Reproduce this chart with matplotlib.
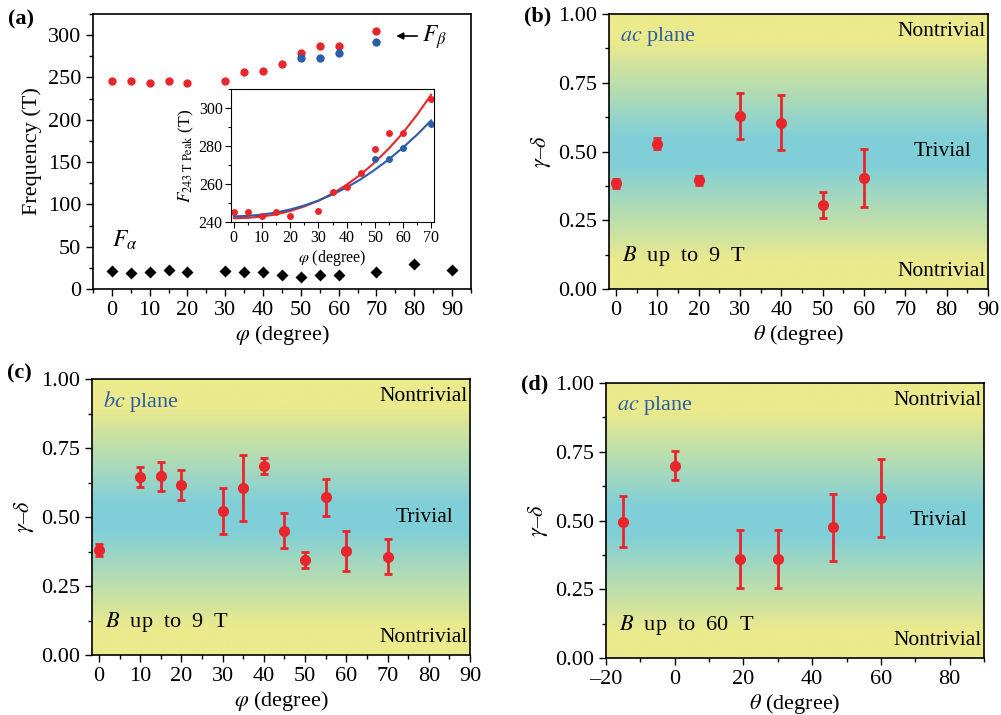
import numpy as np
import matplotlib
matplotlib.use("Agg")
import matplotlib.pyplot as plt
from matplotlib.colors import LinearSegmentedColormap
from matplotlib.ticker import MultipleLocator

plt.rcParams['font.family'] = ['Liberation Serif', 'DejaVu Serif']
plt.rcParams['mathtext.fontset'] = 'stix'
plt.rcParams['xtick.direction'] = 'out'
plt.rcParams['ytick.direction'] = 'out'

RED = '#e8262b'
BLUE = '#2a5ea8'
TXTBLUE = '#2b5ca6'

#########  (a) frequencies
phi_red = [0, 5, 10, 15, 20, 30, 35, 40, 45, 50, 55, 60, 70]
F_red = [245.5, 245.3, 243.4, 245.3, 243.0, 245.6, 255.9, 258.2, 265.6, 278.5, 286.7, 286.7, 304.7]
phi_blue = [50, 55, 60, 70]
F_blue = [273.4, 273.4, 278.9, 291.8]
phi_alpha = [0, 5, 10, 15, 20, 30, 35, 40, 45, 50, 55, 60, 70, 80, 90]
F_alpha = [20.9, 19.3, 19.7, 22.0, 20.0, 20.9, 19.7, 19.7, 16.9, 14.6, 16.9, 16.9, 19.7, 29.5, 22.0]

# fitted curves in the inset
phi_fit = [0, 5, 10, 15, 20, 25, 30, 35, 40, 45, 50, 55, 60, 65, 70]
fit_red = [242.0, 242.2, 242.9, 244.0, 245.8, 248.2, 251.2, 255.0, 259.6, 265.0, 271.4, 278.7, 287.0, 296.5, 307.0]
fit_blue = [243.0, 243.2, 243.9, 245.0, 246.6, 248.7, 251.3, 254.5, 258.2, 262.5, 267.5, 273.0, 279.2, 286.0, 293.5]

#########  (b) ac plane, 9 T
theta_b = [0, 10, 20, 30, 40, 50, 60]
gd_b = [0.384, 0.528, 0.395, 0.628, 0.604, 0.306, 0.404]
err_b = [0.015, 0.02, 0.015, 0.083, 0.10, 0.048, 0.104]

#########  (c) bc plane, 9 T
phi_c = [0, 10, 15, 20, 30, 35, 40, 45, 50, 55, 60, 70]
gd_c = [0.380, 0.646, 0.648, 0.615, 0.521, 0.606, 0.684, 0.451, 0.346, 0.572, 0.377, 0.356]
err_c = [0.023, 0.037, 0.053, 0.055, 0.084, 0.12, 0.029, 0.065, 0.029, 0.067, 0.073, 0.063]

#########  (d) ac plane, 60 T
theta_d = [-15, 0, 19, 30, 46, 60]
gd_d = [0.496, 0.699, 0.359, 0.359, 0.475, 0.583]
err_d = [0.093, 0.053, 0.105, 0.105, 0.122, 0.142]


fig = plt.figure(figsize=(10.01, 7.15), dpi=100)

bg = LinearSegmentedColormap.from_list('bg', [(0.0, '#ebea8c'), (0.1, '#ebea8c'),
                                              (0.45, '#80cfd8'), (0.55, '#80cfd8'),
                                              (0.9, '#ebea8c'), (1.0, '#ebea8c')])


def gamma_panel(rect, xs, ys, es, xlim, xmajor, xminor, xlabel, plane, field, label, ly):
    ax = fig.add_axes(rect)
    grad = np.linspace(0, 1, 256).reshape(-1, 1)
    ax.imshow(grad, cmap=bg, origin='lower', aspect='auto',
              extent=[xlim[0], xlim[1], 0, 1], zorder=0)
    ax.errorbar(xs, ys, yerr=es, fmt='o', color=RED, ms=7, elinewidth=2,
                capsize=3, capthick=2, zorder=3)
    ax.set_xlim(*xlim)
    ax.set_ylim(0, 1)
    ax.xaxis.set_major_locator(MultipleLocator(xmajor))
    ax.xaxis.set_minor_locator(MultipleLocator(xminor))
    ax.yaxis.set_major_locator(MultipleLocator(0.25))
    ax.yaxis.set_minor_locator(MultipleLocator(0.125))
    ax.yaxis.set_major_formatter(matplotlib.ticker.FormatStrFormatter('%.2f'))
    ax.tick_params(which='both', top=False, right=False, labelsize=16, width=1)
    ax.tick_params(which='major', length=5)
    ax.tick_params(which='minor', length=3)
    for s in ax.spines.values():
        s.set_linewidth(1.2)
    ax.set_xlabel(xlabel, fontsize=16, labelpad=2)
    ax.set_ylabel(r'$\gamma$–$\delta$', fontsize=16, labelpad=4)
    ax.text(0.03, 0.92, plane, transform=ax.transAxes, fontsize=16,
            color=TXTBLUE, va='center', ha='left')
    ax.text(0.995, 0.935, 'Nontrivial', transform=ax.transAxes, fontsize=15.5,
            ha='right', va='center')
    ax.text(0.995, 0.065, 'Nontrivial', transform=ax.transAxes, fontsize=15.5,
            ha='right', va='center')
    ax.text(0.88, 0.5, 'Trivial', transform=ax.transAxes, fontsize=15.5,
            ha='center', va='center')
    ax.text(0.035, 0.12, field, transform=ax.transAxes, fontsize=16,
            ha='left', va='center')
    fig.text(rect[0] - 0.085, ly, label, fontsize=16,
             fontweight='bold', va='center', ha='left')
    return ax


#########  (a)
ax = fig.add_axes([0.0929, 0.5958, 0.3776, 0.3846])
ax.plot(phi_red, F_red, 'o', color=RED, ms=6, mec='none')
ax.plot(phi_blue, F_blue, 'o', color=BLUE, ms=6, mec='none')
ax.plot(phi_alpha, F_alpha, 'D', color='black', ms=6, mec='none')
ax.set_xlim(-5, 95)
ax.set_ylim(0, 325)
ax.xaxis.set_major_locator(MultipleLocator(10))
ax.xaxis.set_minor_locator(MultipleLocator(5))
ax.yaxis.set_major_locator(MultipleLocator(50))
ax.yaxis.set_minor_locator(MultipleLocator(25))
ax.tick_params(which='both', top=False, right=False, labelsize=16, width=1)
ax.tick_params(which='major', length=5)
ax.tick_params(which='minor', length=3)
for s in ax.spines.values():
    s.set_linewidth(1.2)
ax.set_xlabel(r'$\varphi$ (degree)', fontsize=16, labelpad=2)
ax.set_ylabel('Frequency (T)', fontsize=16, labelpad=4)
ax.text(0, 57, r'$F_\alpha$', fontsize=17, ha='left', va='center')
ax.annotate('', xy=(74.5, 299), xytext=(81.5, 299),
            arrowprops=dict(arrowstyle='-|>', color='black', lw=1.2, mutation_scale=10))
ax.text(82, 298, r'$F_\beta$', fontsize=17, ha='left', va='center')
fig.text(0.008, 0.973, '(a)', fontsize=16, fontweight='bold', va='center', ha='left')

# inset
ins = fig.add_axes([0.2308, 0.6895, 0.2028, 0.186])
ins.plot(phi_fit, fit_red, '-', color=RED, lw=1.5)
ins.plot(phi_fit, fit_blue, '-', color=BLUE, lw=1.5)
ins.plot(phi_red, F_red, 'o', color=RED, ms=5, mec='none')
ins.plot(phi_blue, F_blue, 'o', color=BLUE, ms=5, mec='none')
ins.set_xlim(-1, 71)
ins.set_ylim(240, 310)
ins.xaxis.set_major_locator(MultipleLocator(10))
ins.xaxis.set_minor_locator(MultipleLocator(5))
ins.yaxis.set_major_locator(MultipleLocator(20))
ins.yaxis.set_minor_locator(MultipleLocator(10))
ins.tick_params(which='both', top=False, right=False, labelsize=11.5, width=0.8, pad=2)
ins.tick_params(which='major', length=4)
ins.tick_params(which='minor', length=2.5)
ins.set_xlabel(r'$\varphi$ (degree)', fontsize=11.5, labelpad=1)
ins.set_ylabel(r'$F_{243\ \mathrm{T\ Peak}}$ (T)', fontsize=12.5, labelpad=2)

#########  (b)
gamma_panel([0.6084, 0.5958, 0.3786, 0.3846], theta_b, gd_b, err_b, (-1.7, 90), 10, 5,
            r'$\theta$ (degree)', r'$ac$ plane', r'$B$  up  to  9  T', '(b)', 0.977)

#########  (c)
gamma_panel([0.0919, 0.0839, 0.3776, 0.386], phi_c, gd_c, err_c, (-1.7, 90), 10, 5,
            r'$\varphi$ (degree)', r'$bc$ plane', r'$B$  up  to  9  T', '(c)', 0.478)

#########  (d)
axd = gamma_panel([0.6054, 0.0797, 0.3776, 0.3846], theta_d, gd_d, err_d, (-20, 90), 20, 10,
                  r'$\theta$ (degree)', r'$ac$ plane', r'$B$  up  to  60  T', '(d)', 0.462)
axd.xaxis.set_major_formatter(matplotlib.ticker.FuncFormatter(
    lambda v, p: ('–%d' % -v) if v < 0 else '%d' % v))

fig.savefig('out.png', dpi=100)
